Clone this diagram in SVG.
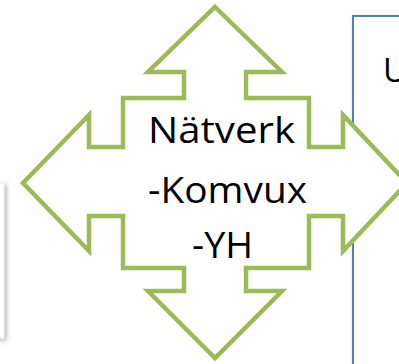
<svg xmlns="http://www.w3.org/2000/svg" width="399" height="364" viewBox="0 0 399 364">
  <defs>
    <filter id="shadow" x="-20%" y="-20%" width="140%" height="140%">
      <feDropShadow dx="2" dy="2" stdDeviation="2.5" flood-color="#000000" flood-opacity="0.3"/>
    </filter>
    <style>
      .box { fill: #ffffff; }
      .blue { stroke: #4F81BD; stroke-width: 2; }
      .arrow { fill: #ffffff; stroke: #9BBB59; stroke-width: 4.5; stroke-linejoin: miter; }
      .lbl { font-family: "Open Sans", "Liberation Sans", sans-serif; font-size: 37px; fill: #000000; }
    </style>
  </defs>
  <rect width="399" height="364" fill="#ffffff"/>
  <g id="left-box">
    <rect class="box" x="-200" y="183" width="204" height="155" stroke="#ececec" stroke-width="1" filter="url(#shadow)"/>
  </g>
  <g id="right-box">
    <rect class="box blue" x="353" y="16" width="120" height="420" filter="url(#shadow)"/>
    <text class="lbl" x="383" y="82" style="font-size:33px">U</text>
  </g>
  <g id="connectors"></g>
  <g id="network-node">
    <polygon class="arrow" points="215,7 282,72 246,72 246,98 309,98 309,147 343,147 343,115 407,183 343,251 343,216 309,216 309,268 246,268 246,291 282,291 215,358 148,291 184,291 184,268 123,268 123,216 89,216 89,251 23,183 89,115 89,147 123,147 123,98 184,98 184,72 148,72"/>
    <text class="lbl" x="148" y="143" textLength="147" lengthAdjust="spacingAndGlyphs">Nätverk</text>
    <text class="lbl" x="148" y="203" textLength="159" lengthAdjust="spacingAndGlyphs">-Komvux</text>
    <text class="lbl" x="192" y="258" textLength="61" lengthAdjust="spacingAndGlyphs">-YH</text>
  </g>
</svg>
